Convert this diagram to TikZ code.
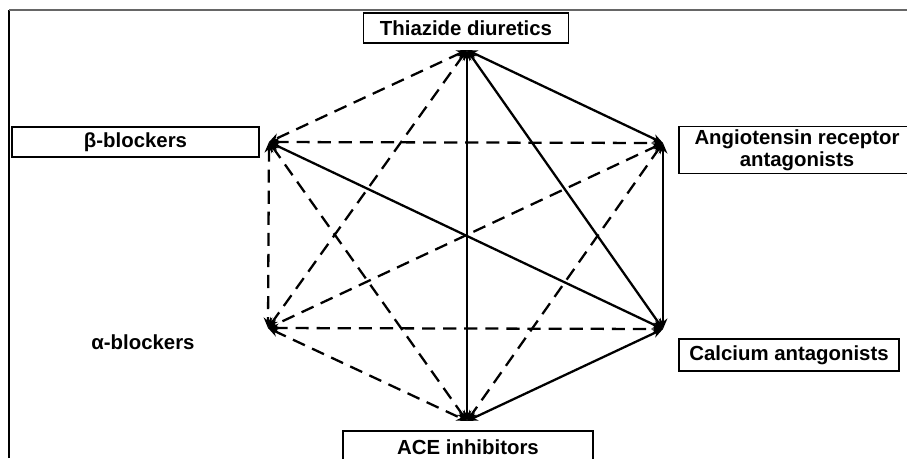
\documentclass[tikz,border=0pt]{standalone}
\usepackage{fontspec}
\setmainfont{Liberation Sans}
\usetikzlibrary{arrows.meta}
\tikzset{
    drugbox/.style={draw, line width=0.8pt, inner sep=0pt, align=center},
    link/.style={<->, line width=1.3pt, >={Stealth[length=6pt, width=5pt]}},
    dashlink/.style={link, dash pattern=on 7.5pt off 4.5pt}
}
\begin{document}
\begin{tikzpicture}[x=0.02cm, y=-0.02cm]
                \useasboundingbox (0,0) rectangle (907,458);
                \fontsize{11.6}{12.6}\selectfont\bfseries
                % frame
                \draw[line width=0.9pt] (9,458) -- (9,10);
                \draw[line width=0.7pt, black!60] (9,10) -- (907,10);
                % drug classes
                \node[drugbox, minimum width=4.1cm, minimum height=0.6cm] (thiazide) at (466,28) {Thiazide diuretics};
                \node[drugbox, minimum width=4.94cm, minimum height=0.6cm] (beta) at (135.5,142) {β-blockers};
                \node[drugbox, minimum width=4.72cm, minimum height=0.94cm] (angio) at (797,150) {Angiotensin receptor\\antagonists};
                \node (alpha) at (143,342) {α-blockers};
                \node[drugbox, minimum width=4.4cm, minimum height=0.64cm] (calcium) at (789,355) {Calcium antagonists};
                \node[drugbox, minimum width=5cm, minimum height=0.64cm] (ace) at (468,447) {ACE inhibitors};
                % corners of the hexagon
                \coordinate (vThi) at (467,50);
                \coordinate (vBeta) at (269,142);
                \coordinate (vAngio) at (663,143);
                \coordinate (vAlpha) at (268,328);
                \coordinate (vCalc) at (663,329);
                \coordinate (vAce) at (467,421);
                % preferred combinations
                \draw[link] (vThi) -- (vAngio);
                \draw[link] (vThi) -- (vCalc);
                \draw[link] (vThi) -- (vAce);
                \draw[link] (vBeta) -- (vCalc);
                \draw[link] (vAngio) -- (vCalc);
                \draw[link] (vCalc) -- (vAce);
                % other combinations
                \draw[dashlink] (vThi) -- (vBeta);
                \draw[dashlink] (vThi) -- (vAlpha);
                \draw[dashlink] (vBeta) -- (vAngio);
                \draw[dashlink] (vBeta) -- (vAlpha);
                \draw[dashlink] (vBeta) -- (vAce);
                \draw[dashlink] (vAngio) -- (vAlpha);
                \draw[dashlink] (vAngio) -- (vAce);
                \draw[dashlink] (vAlpha) -- (vCalc);
                \draw[dashlink] (vAlpha) -- (vAce);
            \end{tikzpicture}
\end{document}
